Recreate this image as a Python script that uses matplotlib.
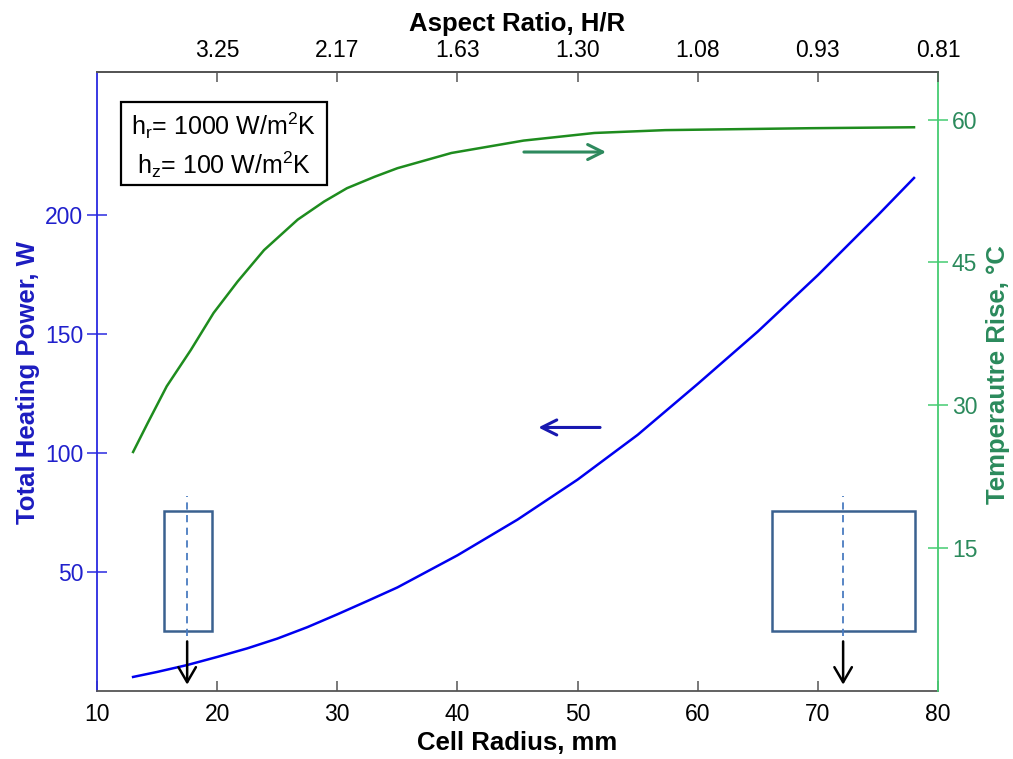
import matplotlib
matplotlib.use("Agg")
import matplotlib.pyplot as plt
from matplotlib.patches import Rectangle

plt.rcParams['font.family'] = ['Liberation Sans', 'DejaVu Sans']
plt.rcParams['mathtext.fontset'] = 'custom'
plt.rcParams['mathtext.rm'] = 'Liberation Sans'

# data
radius_p = [13, 15, 17.5, 20, 22.5, 25, 27.5, 30, 32.5, 35, 40, 45, 50, 55, 60, 65, 70, 75, 78]
power = [5.9, 8.0, 10.9, 14.3, 17.9, 22.0, 26.8, 32.2, 37.8, 43.5, 57.0, 72.0, 88.8,
         107.6, 129.0, 151.0, 174.7, 199.9, 215.5]

radius_t = [13, 14.2, 15.8, 17.8, 19.7, 21.7, 23.9, 26.7, 28.9, 30.8, 33.1, 35,
            39.5, 45.5, 51.4, 57.3, 63.3, 69.3, 78]
temp_rise = [25.1, 28.1, 32.0, 35.8, 39.7, 43.0, 46.3, 49.5, 51.4, 52.8, 54.0, 54.9,
             56.5, 57.8, 58.6, 58.9, 59.0, 59.1, 59.2]

x_ticks = [10, 20, 30, 40, 50, 60, 70, 80]
top_ticks = [20, 30, 40, 50, 60, 70, 80]
aspect_labels = ['3.25', '2.17', '1.63', '1.30', '1.08', '0.93', '0.81']
power_ticks = [50, 100, 150, 200]
temp_ticks = [15, 30, 45, 60]

# cell sketches: (x left, x right, axis x) in mm, y in W
cells = [(15.6, 19.6, 17.5), (66.2, 78.1, 72.1)]
cell_y = (25.4, 75.8)

BLUE = '#0000f0'
BLUE_TXT = '#2020cc'
GREEN = '#1e8c1e'
GREEN_TXT = '#2b8a5c'
GREEN_SPINE = '#45cc72'
GREY = '#555555'
BOX = '#3a6190'

fig = plt.figure(figsize=(10.13, 7.59), dpi=100)
ax = fig.add_axes([0.0958, 0.0896, 0.8302, 0.8155])
ax2 = ax.twinx()
ax3 = ax.twiny()

ax.plot(radius_p, power, color=BLUE, lw=1.8)
ax2.plot(radius_t, temp_rise, color=GREEN, lw=1.8)

ax.set_xlim(10, 80)
ax.set_ylim(0, 260)
ax2.set_ylim(0, 65)
ax3.set_xlim(10, 80)

ax.set_xticks(x_ticks)
ax.set_yticks(power_ticks)
ax2.set_yticks(temp_ticks)
ax3.set_xticks(top_ticks)
ax3.set_xticklabels(aspect_labels)

# spines
ax.spines['left'].set_color('#2a2ae0')
ax.spines['bottom'].set_color(GREY)
ax.spines['top'].set_color(GREY)
ax.spines['right'].set_visible(False)
for s in ['left', 'top', 'bottom']:
    ax2.spines[s].set_visible(False)
ax2.spines['right'].set_color(GREEN_SPINE)
for s in ['left', 'right', 'bottom']:
    ax3.spines[s].set_visible(False)
ax3.spines['top'].set_color(GREY)
for a in (ax, ax2, ax3):
    for s in a.spines.values():
        s.set_linewidth(1.3)

ax.tick_params(axis='x', direction='in', length=7, width=1.1, color=GREY,
               labelsize=16.5, pad=9)
ax.tick_params(axis='y', direction='inout', length=14, width=1.1, color='#2a2ae0',
               labelcolor=BLUE_TXT, labelsize=16.5, pad=3)
ax2.tick_params(axis='y', direction='inout', length=14, width=1.1, color=GREEN_SPINE,
                labelcolor=GREEN_TXT, labelsize=16.5, pad=3)
ax3.tick_params(axis='x', direction='in', length=7, width=1.1, color=GREY,
                labelsize=16.5, pad=7)

ax.set_xlabel('Cell Radius, mm', fontsize=18.5, fontweight='bold', labelpad=3)
ax.set_ylabel('Total Heating Power, W', fontsize=18.5, fontweight='bold', color='#1c1cc0')
ax.yaxis.set_label_coords(-0.068, 0.498)
ax2.set_ylabel('Temperautre Rise, °C', fontsize=18.5, fontweight='bold', color=GREEN_TXT)
ax2.yaxis.set_label_coords(1.057, 0.512)
ax3.set_xlabel('Aspect Ratio, H/R', fontsize=18.5, fontweight='bold', labelpad=6)

# direction arrows
ax.annotate('', xy=(46.5, 110.7), xytext=(52.1, 110.7),
            arrowprops=dict(arrowstyle='->,head_length=0.6,head_width=0.3',
                            color='#1818b0', lw=2.2, mutation_scale=18))
ax2.annotate('', xy=(52.6, 56.6), xytext=(45.3, 56.6),
             arrowprops=dict(arrowstyle='->,head_length=0.6,head_width=0.3',
                             color='#2e8a5e', lw=2.2, mutation_scale=18))

# cell sketches with centre lines and black pointer arrows
for x0, x1, xc in cells:
    ax.add_patch(Rectangle((x0, cell_y[0]), x1 - x0, cell_y[1] - cell_y[0],
                           fill=False, edgecolor=BOX, lw=1.8, zorder=3))
    ax.plot([xc, xc], [23.0, 81.8], color='#4a7cc0', lw=1.3, ls=(0, (4, 3)), zorder=3)
    ax.annotate('', xy=(xc, 1.5), xytext=(xc, 22.0),
                arrowprops=dict(arrowstyle='->,head_length=0.6,head_width=0.35',
                                color='black', lw=1.8, mutation_scale=18))

# parameter box
ax.add_patch(Rectangle((0.0282, 0.8174), 0.2456, 0.1336, transform=ax.transAxes,
                       fill=False, edgecolor='black', lw=1.6, zorder=5))
ax.text(0.151, 0.914, r'h$_\mathregular{r}$= 1000 W/m$^\mathregular{2}$K',
        transform=ax.transAxes, ha='center', va='center', fontsize=18)
ax.text(0.151, 0.850, r'h$_\mathregular{z}$= 100 W/m$^\mathregular{2}$K',
        transform=ax.transAxes, ha='center', va='center', fontsize=18)

fig.savefig('out.png', dpi=100)
